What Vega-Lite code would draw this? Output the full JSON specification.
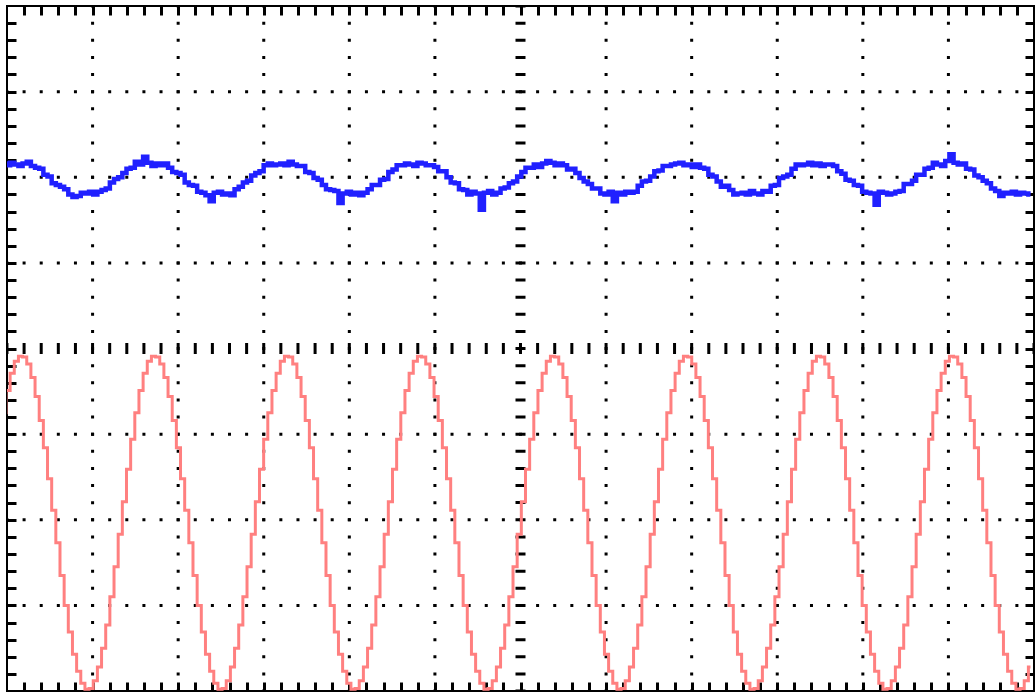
{
  "$schema": "https://vega.github.io/schema/vega-lite/v6.json",
  "width": 1027,
  "height": 685,
  "autosize": {"type": "none"},
  "padding": {"left": 7, "top": 6, "right": 1, "bottom": 4},
  "background": "white",
  "config": {
    "view": {"stroke": "black", "strokeWidth": 2},
    "axis": {"domain": false, "labels": false, "grid": false, "title": null, "ticks": true, "tickSize": -9, "tickWidth": 3, "tickColor": "black", "tickCap": "butt"}
  },
  "datasets": {
    "scope": [
      {"n":-1,"ch1":2.16,"ch2":-0.75},{"n":0,"ch1":2.14,"ch2":-0.49},{"n":1,"ch1":2.17,"ch2":-0.29},{"n":2,"ch1":2.15,"ch2":-0.15},{"n":3,"ch1":2.13,"ch2":-0.09},{"n":4,"ch1":2.16,"ch2":-0.10},{"n":5,"ch1":2.18,"ch2":-0.18},{"n":6,"ch1":2.13,"ch2":-0.34},{"n":7,"ch1":2.11,"ch2":-0.56},{"n":8,"ch1":2.10,"ch2":-0.84},{"n":9,"ch1":2.03,"ch2":-1.16},{"n":10,"ch1":2.01,"ch2":-1.52},{"n":11,"ch1":1.93,"ch2":-1.89},{"n":12,"ch1":1.91,"ch2":-2.27},{"n":13,"ch1":1.89,"ch2":-2.65},{"n":14,"ch1":1.86,"ch2":-3.00},{"n":15,"ch1":1.80,"ch2":-3.31},{"n":16,"ch1":1.77,"ch2":-3.57},{"n":17,"ch1":1.78,"ch2":-3.77},{"n":18,"ch1":1.82,"ch2":-3.91},{"n":19,"ch1":1.81,"ch2":-3.98},{"n":20,"ch1":1.83,"ch2":-3.97},{"n":21,"ch1":1.80,"ch2":-3.88},{"n":22,"ch1":1.83,"ch2":-3.72},{"n":23,"ch1":1.85,"ch2":-3.50},{"n":24,"ch1":1.87,"ch2":-3.23},{"n":25,"ch1":1.94,"ch2":-2.90},{"n":26,"ch1":1.98,"ch2":-2.55},{"n":27,"ch1":2.00,"ch2":-2.17},{"n":28,"ch1":2.05,"ch2":-1.79},{"n":29,"ch1":2.10,"ch2":-1.41},{"n":30,"ch1":2.11,"ch2":-1.06},{"n":31,"ch1":2.18,"ch2":-0.75},
      {"n":32,"ch1":2.15,"ch2":-0.49},{"n":33,"ch1":2.24,"ch2":-0.29},{"n":34,"ch1":2.17,"ch2":-0.15},{"n":35,"ch1":2.13,"ch2":-0.09},{"n":36,"ch1":2.16,"ch2":-0.10},{"n":37,"ch1":2.14,"ch2":-0.18},{"n":38,"ch1":2.16,"ch2":-0.34},{"n":39,"ch1":2.11,"ch2":-0.56},{"n":40,"ch1":2.06,"ch2":-0.84},{"n":41,"ch1":2.05,"ch2":-1.16},{"n":42,"ch1":2.03,"ch2":-1.52},{"n":43,"ch1":1.94,"ch2":-1.89},{"n":44,"ch1":1.91,"ch2":-2.27},{"n":45,"ch1":1.90,"ch2":-2.65},{"n":46,"ch1":1.83,"ch2":-3.00},{"n":47,"ch1":1.82,"ch2":-3.31},{"n":48,"ch1":1.79,"ch2":-3.57},{"n":49,"ch1":1.72,"ch2":-3.77},{"n":50,"ch1":1.82,"ch2":-3.91},{"n":51,"ch1":1.83,"ch2":-3.98},{"n":52,"ch1":1.80,"ch2":-3.97},{"n":53,"ch1":1.81,"ch2":-3.88},{"n":54,"ch1":1.79,"ch2":-3.72},{"n":55,"ch1":1.86,"ch2":-3.50},{"n":56,"ch1":1.89,"ch2":-3.23},{"n":57,"ch1":1.94,"ch2":-2.90},{"n":58,"ch1":1.96,"ch2":-2.55},{"n":59,"ch1":2.02,"ch2":-2.17},{"n":60,"ch1":2.05,"ch2":-1.79},{"n":61,"ch1":2.07,"ch2":-1.41},{"n":62,"ch1":2.14,"ch2":-1.06},{"n":63,"ch1":2.16,"ch2":-0.75},
      {"n":64,"ch1":2.14,"ch2":-0.49},{"n":65,"ch1":2.15,"ch2":-0.29},{"n":66,"ch1":2.16,"ch2":-0.15},{"n":67,"ch1":2.14,"ch2":-0.09},{"n":68,"ch1":2.18,"ch2":-0.10},{"n":69,"ch1":2.15,"ch2":-0.18},{"n":70,"ch1":2.13,"ch2":-0.34},{"n":71,"ch1":2.13,"ch2":-0.56},{"n":72,"ch1":2.06,"ch2":-0.84},{"n":73,"ch1":2.05,"ch2":-1.16},{"n":74,"ch1":1.99,"ch2":-1.52},{"n":75,"ch1":1.97,"ch2":-1.89},{"n":76,"ch1":1.91,"ch2":-2.27},{"n":77,"ch1":1.86,"ch2":-2.65},{"n":78,"ch1":1.85,"ch2":-3.00},{"n":79,"ch1":1.84,"ch2":-3.31},{"n":80,"ch1":1.70,"ch2":-3.57},{"n":81,"ch1":1.81,"ch2":-3.77},{"n":82,"ch1":1.83,"ch2":-3.91},{"n":83,"ch1":1.80,"ch2":-3.98},{"n":84,"ch1":1.82,"ch2":-3.97},{"n":85,"ch1":1.79,"ch2":-3.88},{"n":86,"ch1":1.82,"ch2":-3.72},{"n":87,"ch1":1.86,"ch2":-3.50},{"n":88,"ch1":1.91,"ch2":-3.23},{"n":89,"ch1":1.91,"ch2":-2.90},{"n":90,"ch1":1.97,"ch2":-2.55},{"n":91,"ch1":1.98,"ch2":-2.17},{"n":92,"ch1":2.06,"ch2":-1.79},{"n":93,"ch1":2.09,"ch2":-1.41},{"n":94,"ch1":2.14,"ch2":-1.06},{"n":95,"ch1":2.14,"ch2":-0.75},
      {"n":96,"ch1":2.16,"ch2":-0.49},{"n":97,"ch1":2.15,"ch2":-0.29},{"n":98,"ch1":2.13,"ch2":-0.15},{"n":99,"ch1":2.17,"ch2":-0.09},{"n":100,"ch1":2.16,"ch2":-0.10},{"n":101,"ch1":2.14,"ch2":-0.18},{"n":102,"ch1":2.14,"ch2":-0.34},{"n":103,"ch1":2.12,"ch2":-0.56},{"n":104,"ch1":2.07,"ch2":-0.84},{"n":105,"ch1":2.07,"ch2":-1.16},{"n":106,"ch1":2.00,"ch2":-1.52},{"n":107,"ch1":1.94,"ch2":-1.89},{"n":108,"ch1":1.93,"ch2":-2.27},{"n":109,"ch1":1.86,"ch2":-2.65},{"n":110,"ch1":1.85,"ch2":-3.00},{"n":111,"ch1":1.80,"ch2":-3.31},{"n":112,"ch1":1.83,"ch2":-3.57},{"n":113,"ch1":1.81,"ch2":-3.77},{"n":114,"ch1":1.62,"ch2":-3.91},{"n":115,"ch1":1.82,"ch2":-3.98},{"n":116,"ch1":1.84,"ch2":-3.97},{"n":117,"ch1":1.80,"ch2":-3.88},{"n":118,"ch1":1.82,"ch2":-3.72},{"n":119,"ch1":1.87,"ch2":-3.50},{"n":120,"ch1":1.88,"ch2":-3.23},{"n":121,"ch1":1.93,"ch2":-2.90},{"n":122,"ch1":1.95,"ch2":-2.55},{"n":123,"ch1":2.01,"ch2":-2.17},{"n":124,"ch1":2.06,"ch2":-1.79},{"n":125,"ch1":2.11,"ch2":-1.41},{"n":126,"ch1":2.11,"ch2":-1.06},{"n":127,"ch1":2.15,"ch2":-0.75},
      {"n":128,"ch1":2.12,"ch2":-0.49},{"n":129,"ch1":2.16,"ch2":-0.29},{"n":130,"ch1":2.19,"ch2":-0.15},{"n":131,"ch1":2.17,"ch2":-0.09},{"n":132,"ch1":2.14,"ch2":-0.10},{"n":133,"ch1":2.16,"ch2":-0.18},{"n":134,"ch1":2.14,"ch2":-0.34},{"n":135,"ch1":2.09,"ch2":-0.56},{"n":136,"ch1":2.10,"ch2":-0.84},{"n":137,"ch1":2.05,"ch2":-1.16},{"n":138,"ch1":1.99,"ch2":-1.52},{"n":139,"ch1":1.95,"ch2":-1.89},{"n":140,"ch1":1.92,"ch2":-2.27},{"n":141,"ch1":1.87,"ch2":-2.65},{"n":142,"ch1":1.87,"ch2":-3.00},{"n":143,"ch1":1.81,"ch2":-3.31},{"n":144,"ch1":1.80,"ch2":-3.57},{"n":145,"ch1":1.83,"ch2":-3.77},{"n":146,"ch1":1.72,"ch2":-3.91},{"n":147,"ch1":1.82,"ch2":-3.98},{"n":148,"ch1":1.80,"ch2":-3.97},{"n":149,"ch1":1.83,"ch2":-3.88},{"n":150,"ch1":1.82,"ch2":-3.72},{"n":151,"ch1":1.83,"ch2":-3.50},{"n":152,"ch1":1.90,"ch2":-3.23},{"n":153,"ch1":1.95,"ch2":-2.90},{"n":154,"ch1":1.96,"ch2":-2.55},{"n":155,"ch1":2.01,"ch2":-2.17},{"n":156,"ch1":2.07,"ch2":-1.79},{"n":157,"ch1":2.08,"ch2":-1.41},{"n":158,"ch1":2.13,"ch2":-1.06},{"n":159,"ch1":2.13,"ch2":-0.75},
      {"n":160,"ch1":2.15,"ch2":-0.49},{"n":161,"ch1":2.16,"ch2":-0.29},{"n":162,"ch1":2.17,"ch2":-0.15},{"n":163,"ch1":2.14,"ch2":-0.09},{"n":164,"ch1":2.15,"ch2":-0.10},{"n":165,"ch1":2.12,"ch2":-0.18},{"n":166,"ch1":2.15,"ch2":-0.34},{"n":167,"ch1":2.11,"ch2":-0.56},{"n":168,"ch1":2.10,"ch2":-0.84},{"n":169,"ch1":2.03,"ch2":-1.16},{"n":170,"ch1":2.01,"ch2":-1.52},{"n":171,"ch1":1.95,"ch2":-1.89},{"n":172,"ch1":1.89,"ch2":-2.27},{"n":173,"ch1":1.90,"ch2":-2.65},{"n":174,"ch1":1.85,"ch2":-3.00},{"n":175,"ch1":1.80,"ch2":-3.31},{"n":176,"ch1":1.81,"ch2":-3.57},{"n":177,"ch1":1.82,"ch2":-3.77},{"n":178,"ch1":1.80,"ch2":-3.91},{"n":179,"ch1":1.84,"ch2":-3.98},{"n":180,"ch1":1.81,"ch2":-3.97},{"n":181,"ch1":1.80,"ch2":-3.88},{"n":182,"ch1":1.84,"ch2":-3.72},{"n":183,"ch1":1.83,"ch2":-3.50},{"n":184,"ch1":1.90,"ch2":-3.23},{"n":185,"ch1":1.91,"ch2":-2.90},{"n":186,"ch1":1.99,"ch2":-2.55},{"n":187,"ch1":2.01,"ch2":-2.17},{"n":188,"ch1":2.03,"ch2":-1.79},{"n":189,"ch1":2.10,"ch2":-1.41},{"n":190,"ch1":2.15,"ch2":-1.06},{"n":191,"ch1":2.14,"ch2":-0.75},
      {"n":192,"ch1":2.15,"ch2":-0.49},{"n":193,"ch1":2.17,"ch2":-0.29},{"n":194,"ch1":2.14,"ch2":-0.15},{"n":195,"ch1":2.16,"ch2":-0.09},{"n":196,"ch1":2.13,"ch2":-0.10},{"n":197,"ch1":2.15,"ch2":-0.18},{"n":198,"ch1":2.15,"ch2":-0.34},{"n":199,"ch1":2.13,"ch2":-0.56},{"n":200,"ch1":2.07,"ch2":-0.84},{"n":201,"ch1":2.04,"ch2":-1.16},{"n":202,"ch1":1.97,"ch2":-1.52},{"n":203,"ch1":1.96,"ch2":-1.89},{"n":204,"ch1":1.91,"ch2":-2.27},{"n":205,"ch1":1.90,"ch2":-2.65},{"n":206,"ch1":1.83,"ch2":-3.00},{"n":207,"ch1":1.82,"ch2":-3.31},{"n":208,"ch1":1.81,"ch2":-3.57},{"n":209,"ch1":1.68,"ch2":-3.77},{"n":210,"ch1":1.83,"ch2":-3.91},{"n":211,"ch1":1.82,"ch2":-3.98},{"n":212,"ch1":1.80,"ch2":-3.97},{"n":213,"ch1":1.81,"ch2":-3.88},{"n":214,"ch1":1.83,"ch2":-3.72},{"n":215,"ch1":1.84,"ch2":-3.50},{"n":216,"ch1":1.92,"ch2":-3.23},{"n":217,"ch1":1.92,"ch2":-2.90},{"n":218,"ch1":1.96,"ch2":-2.55},{"n":219,"ch1":2.03,"ch2":-2.17},{"n":220,"ch1":2.03,"ch2":-1.79},{"n":221,"ch1":2.10,"ch2":-1.41},{"n":222,"ch1":2.11,"ch2":-1.06},{"n":223,"ch1":2.17,"ch2":-0.75},
      {"n":224,"ch1":2.15,"ch2":-0.49},{"n":225,"ch1":2.13,"ch2":-0.29},{"n":226,"ch1":2.19,"ch2":-0.15},{"n":227,"ch1":2.27,"ch2":-0.09},{"n":228,"ch1":2.17,"ch2":-0.10},{"n":229,"ch1":2.15,"ch2":-0.18},{"n":230,"ch1":2.16,"ch2":-0.34},{"n":231,"ch1":2.10,"ch2":-0.56},{"n":232,"ch1":2.09,"ch2":-0.84},{"n":233,"ch1":2.02,"ch2":-1.16},{"n":234,"ch1":2.00,"ch2":-1.52},{"n":235,"ch1":1.96,"ch2":-1.89},{"n":236,"ch1":1.93,"ch2":-2.27},{"n":237,"ch1":1.87,"ch2":-2.65},{"n":238,"ch1":1.84,"ch2":-3.00},{"n":239,"ch1":1.78,"ch2":-3.31},{"n":240,"ch1":1.82,"ch2":-3.57},{"n":241,"ch1":1.81,"ch2":-3.77},{"n":242,"ch1":1.83,"ch2":-3.91},{"n":243,"ch1":1.80,"ch2":-3.98},{"n":244,"ch1":1.82,"ch2":-3.97},{"n":245,"ch1":1.81,"ch2":-3.88},{"n":246,"ch1":1.80,"ch2":-3.72}
    ]
  },
  "layer": [
    {
      "data": {"values": [{"gx":1},{"gx":2},{"gx":3},{"gx":4},{"gx":5},{"gx":7},{"gx":8},{"gx":9},{"gx":10},{"gx":11}]},
      "mark": {"type": "rule", "color": "black", "strokeWidth": 3, "strokeDash": [3, 14.125], "strokeDashOffset": 1.5},
      "encoding": {
        "x": {"field": "gx", "type": "quantitative", "scale": {"domain": [0, 12], "nice": false, "zero": false},
              "axis": {"orient": "bottom", "values": [0.2,0.4,0.6,0.8,1,1.2,1.4,1.6,1.8,2,2.2,2.4,2.6,2.8,3,3.2,3.4,3.6,3.8,4,4.2,4.4,4.6,4.8,5,5.2,5.4,5.6,5.8,6,6.2,6.4,6.6,6.8,7,7.2,7.4,7.6,7.8,8,8.2,8.4,8.6,8.8,9,9.2,9.4,9.6,9.8,10,10.2,10.4,10.6,10.8,11,11.2,11.4,11.6,11.8]}}
      }
    },
    {
      "data": {"values": [{"gx":6}]},
      "mark": {"type": "rule", "color": "black", "strokeWidth": 10, "strokeDash": [3, 14.125], "strokeDashOffset": 1.5},
      "encoding": {
        "x": {"field": "gx", "type": "quantitative", "scale": {"domain": [0, 12], "nice": false, "zero": false},
              "axis": {"orient": "top", "values": [0.2,0.4,0.6,0.8,1,1.2,1.4,1.6,1.8,2,2.2,2.4,2.6,2.8,3,3.2,3.4,3.6,3.8,4,4.2,4.4,4.6,4.8,5,5.2,5.4,5.6,5.8,6,6.2,6.4,6.6,6.8,7,7.2,7.4,7.6,7.8,8,8.2,8.4,8.6,8.8,9,9.2,9.4,9.6,9.8,10,10.2,10.4,10.6,10.8,11,11.2,11.4,11.6,11.8]}}
      }
    },
    {
      "data": {"values": [{"gy":-3},{"gy":-2},{"gy":-1},{"gy":1},{"gy":2},{"gy":3}]},
      "mark": {"type": "rule", "color": "black", "strokeWidth": 3, "strokeDash": [3, 14.117], "strokeDashOffset": 1.5},
      "encoding": {
        "y": {"field": "gy", "type": "quantitative", "scale": {"domain": [-4, 4], "nice": false, "zero": false},
              "axis": {"orient": "left", "values": [-3.8,-3.6,-3.4,-3.2,-3,-2.8,-2.6,-2.4,-2.2,-2,-1.8,-1.6,-1.4,-1.2,-1,-0.8,-0.6,-0.4,-0.2,0,0.2,0.4,0.6,0.8,1,1.2,1.4,1.6,1.8,2,2.2,2.4,2.6,2.8,3,3.2,3.4,3.6,3.8]}}
      }
    },
    {
      "data": {"values": [{"gy":0}]},
      "mark": {"type": "rule", "color": "black", "strokeWidth": 11, "strokeDash": [3, 14.117], "strokeDashOffset": 1.5},
      "encoding": {
        "y": {"field": "gy", "type": "quantitative", "scale": {"domain": [-4, 4], "nice": false, "zero": false},
              "axis": {"orient": "right", "values": [-3.8,-3.6,-3.4,-3.2,-3,-2.8,-2.6,-2.4,-2.2,-2,-1.8,-1.6,-1.4,-1.2,-1,-0.8,-0.6,-0.4,-0.2,0,0.2,0.4,0.6,0.8,1,1.2,1.4,1.6,1.8,2,2.2,2.4,2.6,2.8,3,3.2,3.4,3.6,3.8]}}
      }
    },
    {
      "data": {"name": "scope"},
      "mark": {"type": "line", "color": "#FF8080", "strokeWidth": 3, "interpolate": "step", "clip": true},
      "encoding": {
        "x": {"field": "n", "type": "quantitative", "scale": {"domain": [-0.25, 246.85], "nice": false, "zero": false}, "axis": null},
        "y": {"field": "ch2", "type": "quantitative", "scale": {"domain": [-4, 4], "nice": false, "zero": false}, "axis": null}
      }
    },
    {
      "data": {"name": "scope"},
      "mark": {"type": "line", "color": "#2020FF", "strokeWidth": 4.5, "interpolate": "step", "clip": true},
      "encoding": {
        "x": {"field": "n", "type": "quantitative", "scale": {"domain": [-0.25, 246.85], "nice": false, "zero": false}, "axis": null},
        "y": {"field": "ch1", "type": "quantitative", "scale": {"domain": [-4, 4], "nice": false, "zero": false}, "axis": null}
      }
    }
  ],
  "resolve": {"scale": {"x": "independent", "y": "independent"}, "axis": {"x": "independent", "y": "independent"}}
}
